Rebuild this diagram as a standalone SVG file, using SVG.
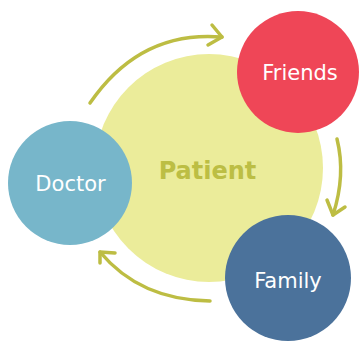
<svg xmlns="http://www.w3.org/2000/svg" width="361" height="341" viewBox="0 0 361 341">
<style>
.lbl{font-family:"DejaVu Sans","Noto Sans",sans-serif;fill:#fff;font-size:21px;text-anchor:middle}
.arr{fill:none;stroke:#BDBD43;stroke-width:3.5;stroke-linecap:round;stroke-linejoin:round}
</style>
<rect width="361" height="341" fill="#fff"/>
<g id="patient">
<circle cx="209" cy="168" r="114" fill="#EBEC9A"/>
<text x="207.5" y="179" font-family="'DejaVu Sans','Noto Sans',sans-serif" font-weight="bold" font-size="24" fill="#BCBE44" text-anchor="middle">Patient</text>
</g>
<g id="friends">
<circle cx="298" cy="72" r="61" fill="#EF4657"/>
<text class="lbl" x="300" y="80">Friends</text>
</g>
<g id="doctor">
<circle cx="70" cy="183" r="62" fill="#77B6CA"/>
<text class="lbl" x="70.5" y="191">Doctor</text>
</g>
<g id="family">
<circle cx="288" cy="278" r="63" fill="#4B729B"/>
<text class="lbl" x="288" y="288">Family</text>
</g>
<g id="connectors">
<path class="arr" d="M90,103 Q140,30 222,37"/>
<path class="arr" d="M212,25 L222,37 L208,45"/>
<path class="arr" d="M337,139 Q346,175 333,215"/>
<path class="arr" d="M327,200 L333,215 L345,207"/>
<path class="arr" d="M210,301 Q140,300 100,252"/>
<path class="arr" d="M100,263 L100,252 L115,253"/>
</g>
</svg>
